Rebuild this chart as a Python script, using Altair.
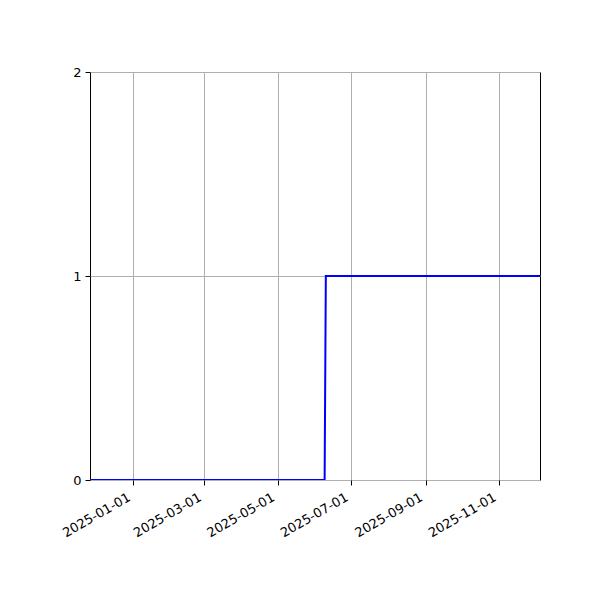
import altair as alt
import pandas as pd

# Step series: 0 until early June, 1 afterwards
dates = ["2024-11-26", "2025-06-09", "2025-06-10", "2025-12-05"]
values = [0, 0, 1, 1]

tick_dates = ["2025-01-01", "2025-03-01", "2025-05-01", "2025-07-01", "2025-09-01", "2025-11-01"]
y_max = 2

df = pd.DataFrame({"date": dates, "value": values})

tick_values = [
    alt.DateTime(year=int(d[:4]), month=int(d[5:7]), date=int(d[8:]), utc=True)
    for d in tick_dates
]

chart = (
    alt.Chart(df)
    .mark_line(color="#0000ff", strokeWidth=2, clip=True)
    .encode(
        x=alt.X(
            "date:T",
            title=None,
            scale=alt.Scale(
                type="utc",
                domain=[
                    alt.DateTime(year=2024, month=11, date=26, utc=True),
                    alt.DateTime(year=2025, month=12, date=5, utc=True),
                ],
                nice=False,
            ),
            axis=alt.Axis(
                values=tick_values,
                tickCount=20,
                format="%Y-%m-%d",
                labelAngle=-30,
                labelAlign="right",
                labelBaseline="bottom",
                labelPadding=17,
                labelOffset=-1,
                labelOverlap=False,
            ),
        ),
        y=alt.Y(
            "value:Q",
            title=None,
            scale=alt.Scale(domain=[0, y_max], nice=False),
            axis=alt.Axis(tickCount=3, tickMinStep=1, format="d", labelPadding=4, labelOverlap=False),
        ),
    )
    .properties(
        width=450,
        height=408,
        background="white",
        autosize=alt.AutoSizeParams(type="none"),
        padding={"left": 82, "top": 64, "right": 52, "bottom": 112},
    )
    .configure_view(stroke="black", strokeWidth=1)
    .configure_axis(
        grid=True,
        gridColor="#b0b0b0",
        gridWidth=1,
        gridOpacity=1,
        domain=False,
        tickColor="black",
        tickSize=5,
        tickWidth=1,
        labelFont="DejaVu Sans",
        labelFontSize=13,
        labelColor="black",
    )
)

chart.save("out.html", embed_options={"renderer": "svg", "actions": False})
